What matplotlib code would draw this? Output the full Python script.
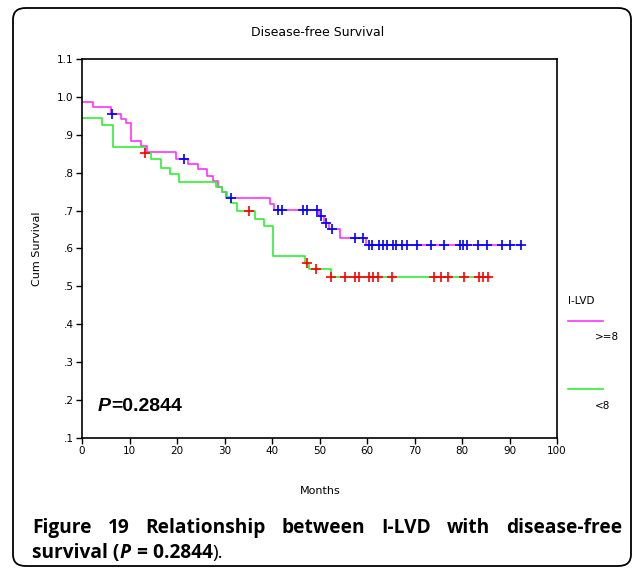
import numpy as np
import matplotlib.pyplot as plt
from matplotlib.lines import Line2D
from matplotlib.patches import FancyBboxPatch

W, H = 636, 570

# I-LVD >= 8 (magenta curve, blue censor marks)
hi_times = [0, 2.3, 6.1, 8.3, 9.3, 10.4, 12.5, 13.6, 19.7, 22.4, 24.5, 26.4,
            27.5, 28.6, 29.5, 30.4, 39.6, 40.4, 49.9, 51.0, 51.9, 54.4, 59.7, 92.4]
hi_surv = [0.986, 0.973, 0.955, 0.942, 0.932, 0.883, 0.870, 0.855, 0.836, 0.823,
           0.809, 0.792, 0.777, 0.763, 0.749, 0.734, 0.717, 0.702, 0.686, 0.668,
           0.652, 0.629, 0.608, 0.608]
hi_censor = [6.4, 21.5, 31.4, 41.2, 42.2, 46.5, 47.4, 49.5, 50.4, 51.3, 52.6,
             57.4, 59.2, 60.5, 61.1, 62.5, 63.4, 64.3, 65.4, 66.2, 67.3, 68.4,
             70.5, 73.5, 76.3, 79.6, 80.3, 81.0, 83.4, 85.2, 88.4, 90.1, 92.4]

# I-LVD < 8 (green curve, red censor marks)
lo_times = [0, 4.3, 6.5, 13.2, 14.5, 16.6, 18.5, 20.4, 28.2, 29.5, 30.5, 31.4,
            32.6, 36.4, 38.4, 40.3, 47.0, 47.8, 52.4, 85.9]
lo_surv = [0.945, 0.927, 0.868, 0.853, 0.836, 0.812, 0.796, 0.776, 0.761, 0.748,
           0.735, 0.721, 0.698, 0.678, 0.660, 0.581, 0.563, 0.545, 0.524, 0.524]
lo_censor = [13.3, 35.2, 47.3, 49.2, 52.4, 55.4, 57.5, 58.3, 60.4, 61.3, 62.4,
             65.3, 74.2, 75.6, 77.1, 80.5, 83.6, 84.5, 85.4]

xticks = list(range(0, 101, 10))
yticks = [0.1, 0.2, 0.3, 0.4, 0.5, 0.6, 0.7, 0.8, 0.9, 1.0, 1.1]
ytick_labels = [".1", ".2", ".3", ".4", ".5", ".6", ".7", ".8", ".9", "1.0", "1.1"]


def step_value(times, surv, t):
    i = np.searchsorted(times, t, side="right") - 1
    return np.asarray(surv)[i]


fig = plt.figure(figsize=(W / 100, H / 100), dpi=100)
fig.patch.set_facecolor("white")

# rounded outer frame
fig.add_artist(FancyBboxPatch((13 / W, 4 / H), 618 / W, 558 / H,
                              boxstyle="round,pad=0,rounding_size=0.02",
                              transform=fig.transFigure, fill=False,
                              edgecolor="black", linewidth=1.3))

ax = fig.add_axes([82 / W, 1 - 438 / H, 475 / W, 379 / H])
ax.step(hi_times, hi_surv, where="post", color="#ff33ff", lw=1.2, zorder=2)
ax.step(lo_times, lo_surv, where="post", color="#33ee33", lw=1.2, zorder=2)
ax.plot(hi_censor, step_value(hi_times, hi_surv, hi_censor), ls="none",
        marker="+", color="#0000ff", ms=7, mew=1.2, zorder=3)
ax.plot(lo_censor, step_value(lo_times, lo_surv, lo_censor), ls="none",
        marker="+", color="#ff0000", ms=7, mew=1.2, zorder=3)

ax.set_xlim(0, 100)
ax.set_ylim(0.1, 1.1)
ax.set_xticks(xticks)
ax.set_yticks(yticks)
ax.set_yticklabels(ytick_labels)
for s in ax.spines.values():
    s.set_linewidth(1.2)
ax.tick_params(direction="out", length=4, width=1, labelsize=7.5, pad=2)

ax.text(3.4, 0.182, "P", fontsize=14, fontweight="bold", style="italic",
        family="Liberation Sans", va="center")

fig.text(0.5, 1 - 32 / H, "Disease-free Survival", ha="center", va="center", fontsize=9)
fig.text(37 / W, 1 - 249 / H, "Cum Survival", rotation=90, ha="center", va="center", fontsize=8)
fig.text(320 / W, 1 - 491 / H, "Months", ha="center", va="center", fontsize=8)

# legend drawn outside the axes
fig.text(568 / W, 1 - 301 / H, "I-LVD", ha="left", va="center", fontsize=7.5)
fig.add_artist(Line2D([568 / W, 603 / W], [1 - 321 / H] * 2, color="#ff33ff", lw=1.2))
fig.text(595 / W, 1 - 337 / H, ">=8", ha="left", va="center", fontsize=7.5)
fig.add_artist(Line2D([568 / W, 603 / W], [1 - 389 / H] * 2, color="#33ee33", lw=1.2))
fig.text(595 / W, 1 - 406 / H, "<8", ha="left", va="center", fontsize=7.5)

fig.canvas.draw()
r = fig.canvas.get_renderer()

# P value label: append the rest after the italic P
pt = ax.texts[0]
bb = pt.get_window_extent(r)
fig.text(bb.x1 / W, (bb.y0 + bb.y1) / 2 / H, "=0.2844", fontsize=14,
         fontweight="bold", family="Liberation Sans", va="center")

# caption, first line justified
cap_size = 13.8
cap_font = dict(fontsize=cap_size, family="Open Sans", fontweight="bold")
words = ["Figure", "19", "Relationship", "between", "I-LVD", "with", "disease-free"]
base1 = 1 - 533 / H
objs = [fig.text(0, base1, w, va="baseline", **cap_font) for w in words]
fig.canvas.draw()
widths = [o.get_window_extent(r).width for o in objs]
gap = ((622 - 32) - sum(widths)) / (len(words) - 1)
x = 32
for o, wd in zip(objs, widths):
    o.set_x(x / W)
    x += wd + gap

base2 = 1 - 558 / H
parts = [("survival (", "bold", "normal"), ("P", "bold", "italic"),
         (" = 0.2844", "bold", "normal"), (").", "normal", "normal")]
x = 32
for txt, wt, st in parts:
    t = fig.text(x / W, base2, txt, va="baseline", fontsize=cap_size, family="Open Sans",
                 fontweight=wt, style=st)
    fig.canvas.draw()
    x = t.get_window_extent(r).x1 + (1 if st == "italic" else 0)

fig.savefig("out.png", dpi=100)
